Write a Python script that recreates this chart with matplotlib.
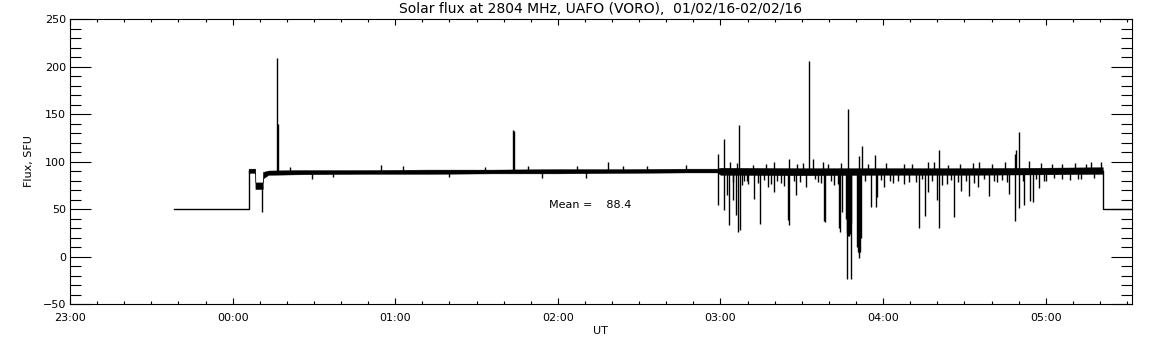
import matplotlib.pyplot as plt
import numpy as np
from matplotlib.ticker import FuncFormatter, MultipleLocator

# times are hours relative to 00:00 UT (negative = previous day)
# flat 50 SFU filler before and after the observation
pre_t = [-0.359, 0.098, 0.098]
pre_v = [50, 50, 90]
post_t = [5.351, 5.351, 5.60]
post_v = [90, 50, 50]

# noise envelope of the record (low / high edge)
band_t  = [0.098, 0.139, 0.140, 0.185, 0.186, 0.22, 0.40, 0.80, 1.20, 1.60,
           2.00, 2.40, 2.80, 2.98, 3.00, 3.50, 4.00, 4.50, 5.00, 5.351]
band_lo = [88, 88, 71, 71, 82, 86, 86.5, 87, 87, 87.5,
           87.5, 88, 88.5, 88.5, 86, 85.5, 86, 86, 86.5, 87]
band_hi = [92.5, 92.5, 78, 78, 89, 90.5, 91, 91, 91.5, 91.5,
           92, 92, 92.5, 92.5, 93.5, 93, 93, 93, 93.5, 94]

# bursts and dropouts (time, peak value)
spike_t = [0.178, 0.271, 0.277, 0.488, 0.913, 1.722, 1.728, 1.814, 1.90, 2.12,
           2.17, 2.306, 2.40, 2.79, 0.35, 0.62, 1.05, 1.33, 1.55, 2.55,
           2.987, 3.02, 3.06, 3.116, 3.20, 3.424, 3.543, 3.567, 3.66, 3.782,
           3.85, 3.869, 3.95, 4.13, 4.275, 4.346, 4.40, 4.588, 4.81, 4.82,
           4.834, 4.895, 5.10, 5.25, 5.341,
           2.987, 3.02, 3.04, 3.055, 3.075, 3.096, 3.11, 3.118, 3.142, 3.17,
           3.204, 3.245, 3.29, 3.327, 3.37, 3.418, 3.422, 3.465, 3.526, 3.60,
           3.638, 3.641, 3.70, 3.73, 3.735, 3.745, 3.77, 3.775, 3.78, 3.785,
           3.79, 3.795, 3.80, 3.805, 3.84, 3.845, 3.85, 3.854, 3.86, 3.865,
           3.926, 3.956, 3.96, 4.008, 4.04, 4.13, 4.20, 4.219, 4.26, 4.275,
           4.33, 4.346, 4.36, 4.438, 4.48, 4.53, 4.582, 4.65, 4.70, 4.777,
           4.814, 4.834, 4.869, 4.904, 4.92, 4.961, 5.00, 5.10, 5.20,
           3.08, 3.13, 3.16, 3.23, 3.27, 3.31, 3.35, 3.39, 3.45, 3.49,
           3.58, 3.62, 3.68, 3.72, 3.89, 3.99, 4.06, 4.09, 4.16, 4.24,
           4.30, 4.39, 4.42, 4.46, 4.51, 4.56, 4.62, 4.68, 4.73, 4.76,
           4.86, 4.94, 4.99, 5.05, 5.15, 5.22, 5.30,
           3.10, 3.28, 3.33, 3.47, 3.51, 3.63, 3.74, 3.91, 4.02, 4.18,
           4.31, 4.47, 4.55, 4.67, 4.75, 4.97, 5.04, 5.18, 5.28]
spike_v = [47, 209, 140, 82, 96, 133, 132, 95, 83, 95,
           83, 99, 95, 96, 94, 84, 95, 84, 94, 95,
           108, 124, 99, 138, 96, 103, 206, 103, 97, 155,
           106, 116, 107, 97, 100, 112, 96, 100, 108, 112,
           131, 101, 97, 97, 99,
           54, 49, 65, 33, 60, 44, 26, 28, 79, 76,
           61, 34, 73, 68, 77, 38, 33, 65, 73, 78,
           37, 36, 75, 30, 26, 47, 40, 25, -24, 22,
           22, 24, -24, 35, 10, 5, 4, -2, 5, 20,
           52, 52, 63, 73, 79, 76, 78, 30, 43, 68,
           59, 30, 75, 42, 69, 64, 73, 64, 78, 66,
           37, 51, 54, 58, 57, 72, 80, 82, 82,
           78, 75, 80, 77, 81, 76, 79, 74, 80, 78,
           82, 77, 80, 76, 79, 81, 77, 80, 78, 82,
           79, 76, 81, 78, 80, 77, 82, 79, 81, 78,
           80, 82, 79, 83, 81, 82, 83,
           98, 97, 99, 97, 98, 99, 98, 97, 98, 97,
           99, 97, 98, 97, 99, 98, 97, 98, 99]

mean_flux = 88.4

fig = plt.figure(figsize=(11.52, 3.45), dpi=100)
ax = fig.add_axes([0.0608, 0.1188, 0.9216, 0.8261])

ax.plot(pre_t, pre_v, color="black", lw=1.0)
ax.plot(post_t, post_v, color="black", lw=1.0)
ax.fill_between(band_t, band_lo, band_hi, color="black", lw=0.3)
mid = (np.array(band_lo) + np.array(band_hi)) / 2
base = np.interp(spike_t, band_t, mid)
ax.vlines(spike_t, base, spike_v, color="black", lw=1.0)

ax.text(1.948, 54, f"Mean =    {mean_flux}", fontsize=8, va="center", ha="left")

ax.set_xlim(-1, 5.529)
ax.set_ylim(-50, 250)
ax.xaxis.set_major_locator(MultipleLocator(1))
ax.xaxis.set_minor_locator(MultipleLocator(1 / 6))
ax.xaxis.set_major_formatter(FuncFormatter(lambda h, p: f"{int(round(h)) % 24:02d}:00"))
ax.yaxis.set_major_locator(MultipleLocator(50))
ax.yaxis.set_minor_locator(MultipleLocator(10))

ax.tick_params(which="both", direction="in", top=True, right=True, labelsize=8, width=0.8)
ax.tick_params(axis="y", which="major", length=14.9, pad=3)
ax.tick_params(axis="y", which="minor", length=7.9)
ax.tick_params(axis="x", which="major", length=4, pad=6.5)
ax.tick_params(axis="x", which="minor", length=2.2)
for s in ax.spines.values():
    s.set_linewidth(0.8)

ax.set_xlabel("UT", fontsize=8, labelpad=2)
ax.set_ylabel("Flux, SFU", fontsize=8, labelpad=6)
ax.set_title("Solar flux at 2804 MHz, UAFO (VORO),  01/02/16-02/02/16", fontsize=10, pad=4)

fig.savefig("out.png", dpi=100)
